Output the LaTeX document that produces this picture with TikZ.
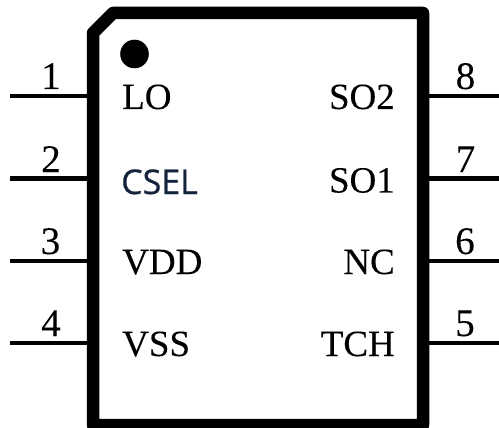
\documentclass[tikz,border=0pt]{standalone}
\usepackage{fontspec}
\setmainfont[FakeBold=0.1]{Liberation Serif}
\newfontfamily\cselfont[FakeBold=0.6]{Open Sans}
\tikzset{
  x=1pt,y=-1pt,
  pinline/.style={line width=4.5pt,line cap=butt},
  bodyline/.style={line width=12.5pt,line join=round,fill=white},
  lab/.style={inner sep=0pt,anchor=base west,font=\fontsize{37}{37}\selectfont,text=black},
  labr/.style={lab,anchor=base east},
  num/.style={inner sep=0pt,anchor=base,font=\fontsize{39}{39}\selectfont,text=black},
}
\begin{document}
\begin{tikzpicture}
\useasboundingbox (0,0) rectangle (499,428);
\fill[white] (0,0) rectangle (499,428);
\coordinate (p1) at (10,96);
\coordinate (p2) at (10,178.5);
\coordinate (p3) at (10,261);
\coordinate (p4) at (10,343);
\coordinate (p8) at (499,96);
\coordinate (p7) at (499,178.5);
\coordinate (p6) at (499,261);
\coordinate (p5) at (499,343);
\coordinate (b1) at (93,96);
\coordinate (b2) at (93,178.5);
\coordinate (b3) at (93,261);
\coordinate (b4) at (93,343);
\coordinate (b8) at (423,96);
\coordinate (b7) at (423,178.5);
\coordinate (b6) at (423,261);
\coordinate (b5) at (423,343);
\foreach \n in {1,...,8}{\draw[pinline] (p\n) -- (b\n);}
\draw[bodyline] (93,33) -- (113,13) -- (423,13) -- (423,425) -- (93,425) -- cycle;
\fill (134.5,54) circle (14.3);
\node[num] (n1) at (51,89) {1};
\node[num] (n2) at (51,172) {2};
\node[num] (n3) at (50.5,254) {3};
\node[num] (n4) at (51,336) {4};
\node[num] (n8) at (465.5,89) {8};
\node[num] (n7) at (465.5,172) {7};
\node[num] (n6) at (465,254) {6};
\node[num] (n5) at (465,336) {5};
\node[lab] (lo) at (122,109) {LO};
\node[lab,font=\fontsize{34}{34}\selectfont\cselfont,text={rgb,255:red,20;green,35;blue,60}] (csel) at (121,194) {CSEL};
\node[lab] (vdd) at (122,274) {VDD};
\node[lab] (vss) at (122,356) {VSS};
\node[labr] (so2) at (395,109) {SO2};
\node[labr] (so1) at (395,192.5) {SO1};
\node[labr] (nc) at (395,274) {NC};
\node[labr] (tch) at (395,356) {TCH};
\end{tikzpicture}
\end{document}
